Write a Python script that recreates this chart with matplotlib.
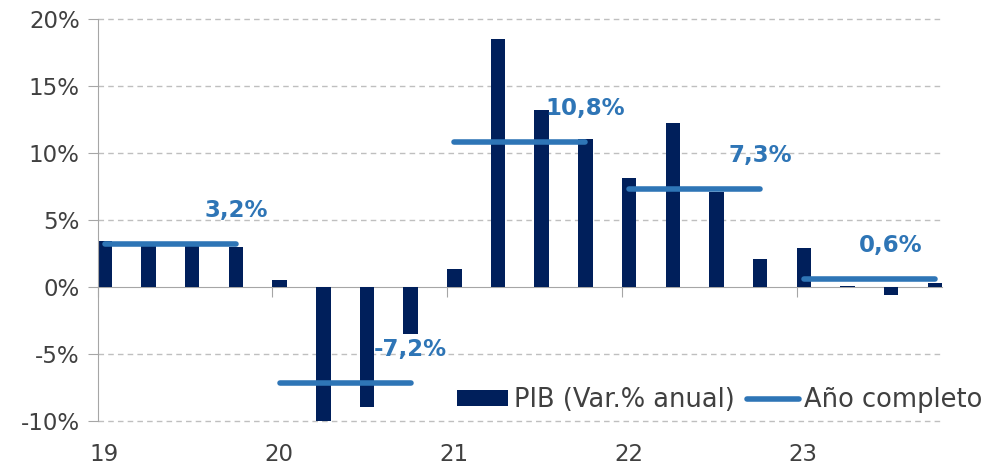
import numpy as np
import matplotlib
matplotlib.use('Agg')
import matplotlib.pyplot as plt
import matplotlib.transforms as mtransforms

plt.rcParams['font.family'] = ['DejaVu Sans']

# datos trimestrales (Var.% anual del PIB)
years = ['19', '20', '21', '22', '23']
pib = [3.4, 3.1, 3.1, 3.0,
       0.5, -10.15, -9.0, -3.5,
       1.3, 18.5, 13.2, 11.0,
       8.1, 12.2, 7.1, 2.1,
       2.9, 0.05, -0.6, 0.25]
anual = [3.2, -7.2, 10.8, 7.3, 0.6]
anual_labels = ['3,2%', '-7,2%', '10,8%', '7,3%', '0,6%']
label_q = [3, 3, 3, 3, 2]  # trimestre donde va la etiqueta

bar_col = '#001F5B'
line_col = '#2E75B6'
txt_col = '#404040'
grid_col = '#BFBFBF'

fig = plt.figure(figsize=(9.84, 4.69), dpi=100)
ax = fig.add_axes([0.0993, 0.103, 0.858, 0.857])

w = 0.33
x = np.arange(len(pib))
bars = ax.bar(x, pib, width=w, align='edge', color=bar_col, label='PIB (Var.% anual)', zorder=2)

# promedio anual
line_h = None
for i, v in enumerate(anual):
    x0 = i * 4 + w / 2
    x1 = i * 4 + 3 + w / 2
    ln, = ax.plot([x0, x1], [v, v], color=line_col, lw=4, solid_capstyle='round', zorder=3)
    if line_h is None:
        line_h = ln
    ax.text(i * 4 + label_q[i] + w / 2, v + 2.5, anual_labels[i], color=line_col,
            fontsize=16.5, fontweight='bold', ha='center', va='center', zorder=4)

ax.set_xlim(0, len(pib) - 1 + w)
ax.set_ylim(-10, 20)
ax.set_yticks(np.arange(-10, 21, 5))
ax.set_yticklabels([f'{t}%' for t in range(-10, 21, 5)])
for t in [-10, -5, 5, 10, 15, 20]:
    ax.axhline(t, color=grid_col, lw=1, ls=(0, (4, 3)), zorder=0, clip_on=False)

for s in ['top', 'right']:
    ax.spines[s].set_visible(False)
ax.spines['bottom'].set_position(('data', 0))
ax.spines['bottom'].set_color('#A6A6A6')
ax.spines['bottom'].set_zorder(1)
ax.spines['left'].set_color('#A6A6A6')

ax.set_xticks(np.arange(0, len(pib), 4))
ax.tick_params(axis='x', length=7, color='#A6A6A6', labelbottom=False)
ax.tick_params(axis='y', length=7, color='#A6A6A6', labelsize=16.5, labelcolor=txt_col, pad=6)

trans = mtransforms.blended_transform_factory(ax.transData, ax.transAxes)
for i, yl in enumerate(years):
    ax.text(i * 4 + 0.15, -0.085, yl, transform=trans, ha='center', va='center',
            fontsize=16.5, color=txt_col)

fig.legend([bars, line_h], ['PIB (Var.% anual)', 'Año completo'],
           loc='center right', bbox_to_anchor=(0.998, 1 - 400 / 469), ncol=2, frameon=False,
           fontsize=18.5, labelcolor=txt_col, handlelength=2.0, handleheight=0.55,
           handletextpad=0.2, columnspacing=0.5, borderpad=0, borderaxespad=0)

plt.savefig('out.png', dpi=100)
